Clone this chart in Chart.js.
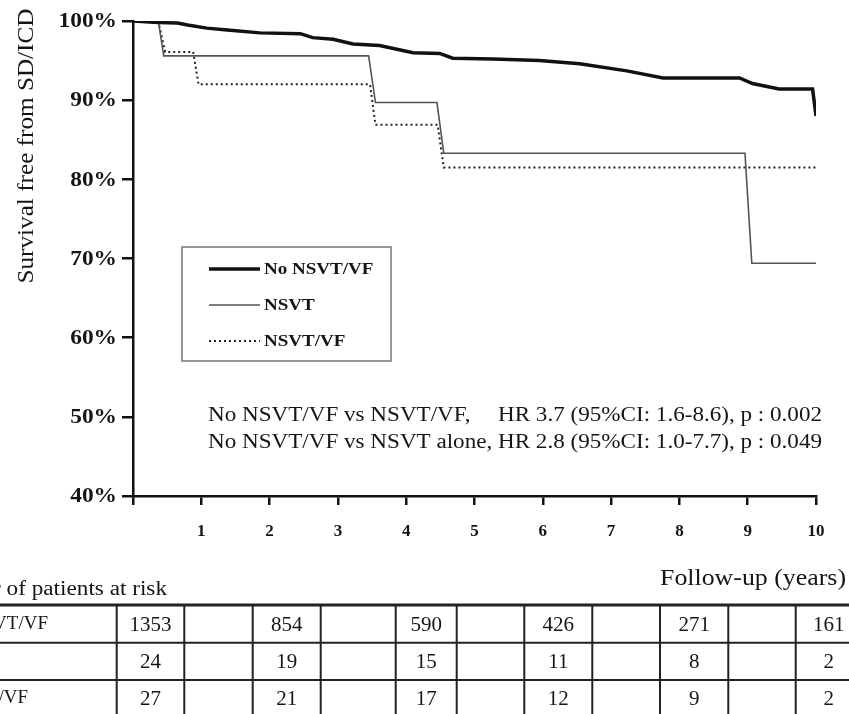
<!DOCTYPE html>
<html>
<head>
<meta charset="utf-8">
<title>Survival free from SD/ICD</title>
<script src="https://cdn.jsdelivr.net/npm/chart.js@4.4.1/dist/chart.umd.min.js"></script>
<style>
    html, body { margin: 0; padding: 0; background: #fff; }
    #wrap { width: 849px; height: 714px; position: relative; overflow: hidden; }
</style>
</head>
<body>
<div id="wrap"><canvas id="kmChart" width="849" height="714"></canvas></div>
<script>
// follow-up in years / survival in %
const noNsvtYears = [0, 0.37, 0.65, 0.8, 1.08, 1.38, 1.86, 2.45, 2.63, 2.93, 3.22, 3.61, 4.1, 4.49, 4.68, 5.27, 5.95, 6.54, 7.23, 7.76, 8.88, 9.07, 9.46, 9.95, 10];
const noNsvtSurv = [100, 99.8, 99.75, 99.5, 99.1, 98.85, 98.5, 98.4, 97.9, 97.7, 97.1, 96.9, 96.0, 95.9, 95.3, 95.2, 95.0, 94.6, 93.7, 92.8, 92.8, 92.1, 91.4, 91.4, 88.0];

const nsvtYears = [0, 0.37, 0.45, 3.45, 3.55, 4.45, 4.55, 8.96, 9.06, 10];
const nsvtSurv = [100, 100, 95.6, 95.6, 89.7, 89.7, 83.3, 83.3, 69.4, 69.4];

const nsvtVfYears = [0, 0.37, 0.47, 0.88, 0.96, 3.47, 3.55, 4.46, 4.55, 10];
const nsvtVfSurv = [100, 100, 96.1, 96.1, 92.0, 92.0, 86.9, 86.9, 81.5, 81.5];

const seriesNames = ['No NSVT/VF', 'NSVT', 'NSVT/VF'];

const yTicks = [40, 50, 60, 70, 80, 90, 100];
const xTicks = [0, 1, 2, 3, 4, 5, 6, 7, 8, 9, 10];

const statLines = [
    ['No NSVT/VF vs NSVT/VF,', 'HR 3.7 (95%CI: 1.6-8.6), p : 0.002'],
    ['No NSVT/VF vs NSVT alone,', 'HR 2.8 (95%CI: 1.0-7.7), p : 0.049']
];

// numbers at risk
const riskTitle = 'Number of patients at risk';
const riskNoNsvt = [1353, 854, 590, 426, 271, 161];
const riskNsvt = [24, 19, 15, 11, 8, 2];
const riskNsvtVf = [27, 21, 17, 12, 9, 2];

const SERIF = "'Liberation Serif', 'Times New Roman', serif";
const INK = '#151515';

function toPoints(xs, ys) {
    return xs.map((x, i) => ({ x: x, y: ys[i] }));
}

// the scanned figure uses a wider serif, so stretch text a little
function wideText(ctx, text, x, y, align, sx) {
    ctx.save();
    ctx.translate(x, y);
    ctx.scale(sx, 1);
    ctx.textAlign = align;
    ctx.fillText(text, 0, 0);
    ctx.restore();
}

document.addEventListener('DOMContentLoaded', function() {
    initChart();
});

const extrasPlugin = {
    id: 'extras',
    afterDraw(chart) {
        const ctx = chart.ctx;
        ctx.save();
        ctx.fillStyle = INK;

        // y tick labels
        const yScale = chart.scales.y;
        ctx.font = 'bold 20px ' + SERIF;
        ctx.textBaseline = 'middle';
        yTicks.forEach(v => {
            wideText(ctx, v + '%', 117, yScale.getPixelForValue(v) + 1, 'right', 1.17);
        });

        // y title
        ctx.save();
        ctx.translate(27, 146);
        ctx.rotate(-Math.PI / 2);
        ctx.font = '24px ' + SERIF;
        ctx.textBaseline = 'middle';
        wideText(ctx, 'Survival free from SD/ICD', 0, 0, 'center', 1.05);
        ctx.restore();

        // x title
        ctx.font = '24px ' + SERIF;
        ctx.textBaseline = 'middle';
        const xt = 'Follow-up (years)';
        wideText(ctx, xt, 846, 579, 'right', 186 / ctx.measureText(xt).width);

        drawLegend(chart, ctx);
        drawStats(ctx);
        drawRiskTable(ctx);
        ctx.restore();
    }
};

function drawLegend(chart, ctx) {
    const box = { x: 182, y: 247, w: 209, h: 114 };
    ctx.strokeStyle = '#777';
    ctx.lineWidth = 1.5;
    ctx.strokeRect(box.x, box.y, box.w, box.h);

    const rowsY = [269, 305, 341];
    ctx.font = 'bold 17px ' + SERIF;
    ctx.textBaseline = 'middle';
    chart.data.datasets.forEach((ds, i) => {
        ctx.save();
        ctx.strokeStyle = ds.borderColor;
        ctx.lineWidth = ds.borderWidth;
        ctx.setLineDash(ds.borderDash || []);
        ctx.beginPath();
        ctx.moveTo(209, rowsY[i]);
        ctx.lineTo(260, rowsY[i]);
        ctx.stroke();
        ctx.restore();
        ctx.fillStyle = INK;
        wideText(ctx, ds.label, 264, rowsY[i] + 1, 'left', 1.12);
    });
}

function drawStats(ctx) {
    ctx.font = '20px ' + SERIF;
    ctx.textBaseline = 'alphabetic';
    const left = 208;
    const full = statLines[1][0] + ' ' + statLines[1][1];
    const sx = 614 / ctx.measureText(full).width;
    const hrX = left + sx * ctx.measureText(statLines[1][0] + ' ').width;
    const baselines = [421, 448];
    statLines.forEach((line, i) => {
        wideText(ctx, line[0], left, baselines[i], 'left', sx);
        wideText(ctx, line[1], hrX, baselines[i], 'left', sx);
    });
}

function drawRiskTable(ctx) {
    ctx.font = '20px ' + SERIF;
    ctx.textBaseline = 'alphabetic';
    wideText(ctx, riskTitle, 167, 595, 'right', 1.16);

    const top = 605;
    const rowLines = [642.7, 680];
    const colLines = [116.7, 184.3, 252.7, 320.7, 395.7, 456.7, 524.3, 592.3, 660, 728.3, 795.7, 862];

    ctx.strokeStyle = '#222';
    ctx.lineWidth = 3;
    ctx.beginPath();
    ctx.moveTo(0, top);
    ctx.lineTo(849, top);
    ctx.stroke();

    ctx.lineWidth = 2;
    ctx.beginPath();
    rowLines.forEach(y => {
        ctx.moveTo(0, y);
        ctx.lineTo(849, y);
    });
    colLines.forEach(x => {
        ctx.moveTo(x, top);
        ctx.lineTo(x, 714);
    });
    ctx.stroke();

    const rows = [riskNoNsvt, riskNsvt, riskNsvtVf];
    const centersY = [624, 661, 698];
    const labelRight = [48, -4, 28];

    ctx.textBaseline = 'middle';
    rows.forEach((vals, r) => {
        ctx.font = '19px ' + SERIF;
        ctx.textAlign = 'right';
        ctx.fillText(seriesNames[r], labelRight[r], centersY[r]);

        ctx.font = '21px ' + SERIF;
        ctx.textAlign = 'center';
        vals.forEach((v, c) => {
            const x = (colLines[c * 2] + colLines[c * 2 + 1]) / 2;
            ctx.fillText(String(v), x, centersY[r] + 1);
        });
    });
}

function initChart() {
    const canvas = document.getElementById('kmChart');

    new Chart(canvas.getContext('2d'), {
        type: 'scatter',
        data: {
            datasets: [
                {
                    label: seriesNames[0],
                    data: toPoints(noNsvtYears, noNsvtSurv),
                    showLine: true,
                    borderColor: '#111',
                    borderWidth: 3.5,
                    pointRadius: 0
                },
                {
                    label: seriesNames[1],
                    data: toPoints(nsvtYears, nsvtSurv),
                    showLine: true,
                    borderColor: '#555',
                    borderWidth: 1.6,
                    pointRadius: 0
                },
                {
                    label: seriesNames[2],
                    data: toPoints(nsvtVfYears, nsvtVfSurv),
                    showLine: true,
                    borderColor: '#222',
                    borderWidth: 2,
                    borderDash: [2, 3],
                    pointRadius: 0
                }
            ]
        },
        options: {
            responsive: false,
            animation: false,
            devicePixelRatio: 1,
            layout: {
                padding: { left: 0, top: 21, right: 33, bottom: 168 }
            },
            plugins: {
                legend: { display: false },
                tooltip: { enabled: false }
            },
            scales: {
                x: {
                    type: 'linear',
                    min: 0,
                    max: 10,
                    afterFit: s => { s.height = 50; },
                    afterBuildTicks: s => { s.ticks = xTicks.map(v => ({ value: v })); },
                    border: { display: true, color: '#111', width: 2.5 },
                    grid: { display: true, drawOnChartArea: false, drawTicks: true, tickLength: 9, color: '#111', lineWidth: 2.5 },
                    ticks: {
                        color: INK,
                        padding: 16,
                        maxRotation: 0,
                        autoSkip: false,
                        font: { family: SERIF, size: 17, weight: 'bold' },
                        callback: v => v === 0 ? '' : String(v)
                    }
                },
                y: {
                    type: 'linear',
                    min: 40,
                    max: 100,
                    afterFit: s => { s.width = 133; },
                    afterBuildTicks: s => { s.ticks = yTicks.map(v => ({ value: v })); },
                    border: { display: true, color: '#111', width: 2.5 },
                    grid: { display: true, drawOnChartArea: false, drawTicks: true, tickLength: 11, color: '#111', lineWidth: 2.5 },
                    ticks: {
                        // labels are drawn by the extras plugin
                        color: INK,
                        padding: 5,
                        autoSkip: false,
                        font: { family: SERIF, size: 20, weight: 'bold' },
                        callback: () => ''
                    }
                }
            }
        },
        plugins: [extrasPlugin]
    });
}
</script>
</body>
</html>
